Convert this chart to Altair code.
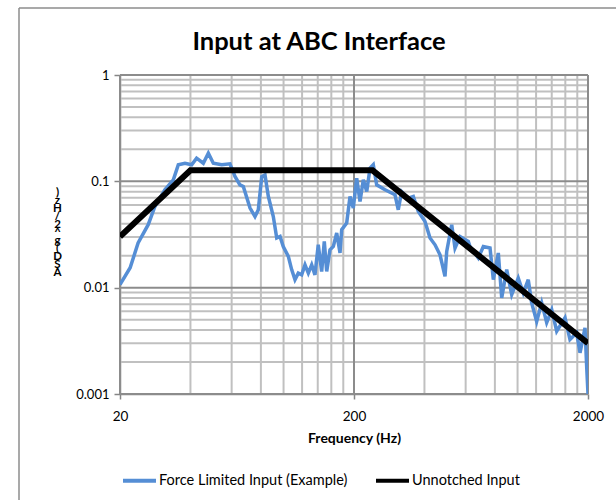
import altair as alt
import pandas as pd

# ---- data ----
force_freq = [20, 22.1, 23.9, 26.4, 28.2, 31.1, 33.8, 35.5, 37.9, 40.5,
              42.5, 45.4, 47.7, 50.1, 54.4, 59.0, 62.0, 65.1, 67.3, 71.9,
              75.5, 78.0, 80.7, 83.3, 86.1, 90.4, 93.5, 96.6, 99.7, 104.8,
              108.3, 111.9, 115.6, 119.5, 123.5, 127.6, 131.9, 136.2, 140.7, 145.5,
              149.3, 152.9, 157.9, 163.2, 168.7, 174.3, 177.2, 186.1, 192.3, 198.6,
              205.4, 212.2, 219.2, 226.7, 234.2, 241.8, 250.0, 271.4, 299.4, 309.2,
              319.7, 341.3, 358.5, 376.6, 402.2, 422.6, 443.9, 466.2, 489.7, 498.0,
              523.1, 540.4, 567.5, 615.9, 626.2, 679.6, 714.0, 762.7, 787.8, 827.5,
              855.6, 898.7, 944.0, 1007, 1058, 1111, 1149, 1207, 1268, 1332,
              1400, 1470, 1595, 1675, 1789, 1849, 1942, 1974, 2000]
force_asd = [0.0107, 0.0154, 0.0263, 0.0391, 0.058, 0.0832, 0.1033, 0.143, 0.148, 0.143,
             0.165, 0.148, 0.184, 0.148, 0.143, 0.146, 0.111, 0.0927, 0.0894, 0.056,
             0.0467, 0.054, 0.111, 0.115, 0.072, 0.0467, 0.0293, 0.0303, 0.0244, 0.0197,
             0.0148, 0.0119, 0.0137, 0.0132, 0.0164, 0.0137, 0.0164, 0.0132, 0.0253, 0.0142,
             0.0272, 0.0142, 0.0227, 0.0244, 0.0327, 0.0212, 0.0351, 0.0405, 0.072, 0.056,
             0.107, 0.0646, 0.1033, 0.0802, 0.133, 0.143, 0.0927, 0.0832, 0.0747, 0.054,
             0.0802, 0.0695, 0.072, 0.052, 0.042, 0.0293, 0.0253, 0.0204, 0.0128, 0.0219,
             0.0391, 0.0236, 0.0303, 0.0272, 0.0244, 0.019, 0.0244, 0.0236, 0.0119, 0.0212,
             0.0080, 0.0148, 0.0086, 0.0123, 0.0089, 0.0119, 0.0072, 0.0048, 0.0072, 0.0047,
             0.0062, 0.0039, 0.0052, 0.00325, 0.00376, 0.00244, 0.0042, 0.00182, 0.001]

unnotched_freq = [20, 40, 240, 2000]
unnotched_asd = [0.0302, 0.127, 0.127, 0.0030]

series_names = ["Force Limited Input (Example)", "Unnotched Input"]
series_colors = ["#558ED5", "#000000"]

chart_title = "Input at ABC Interface"

x_major = [20, 200, 2000]
x_minor = [40, 60, 80, 100, 120, 140, 160, 180,
           400, 600, 800, 1000, 1200, 1400, 1600, 1800]
y_major = [0.001, 0.01, 0.1, 1]
y_minor = [0.002, 0.003, 0.004, 0.005, 0.006, 0.007, 0.008, 0.009,
           0.02, 0.03, 0.04, 0.05, 0.06, 0.07, 0.08, 0.09,
           0.2, 0.3, 0.4, 0.5, 0.6, 0.7, 0.8, 0.9]

y_title_lines = [")", "z", "H", "/", "2", "^", "g", "(", " ", "D", "S", "A"]

FONT = "Lato"

# ---- shared encodings ----
x_scale = alt.Scale(type="log", domain=[20, 2000], nice=False)
y_scale = alt.Scale(type="log", domain=[0.001, 1], nice=False)

x_enc = alt.X("freq:Q", scale=x_scale,
              axis=alt.Axis(values=x_major, format="d", title="Frequency (Hz)",
                            grid=False, domainColor="#868686", domainWidth=1.5,
                            tickColor="#868686", tickSize=5, tickWidth=1.5,
                            labelFontSize=13.5, labelColor="#000000", labelPadding=10,
                            labelFlush=False, labelOverlap=False,
                            labelFont=FONT, titleFont=FONT,
                            titleFontSize=14, titleFontWeight="bold", titleColor="#000000",
                            titleBaseline="alphabetic", titleY=48))
y_enc = alt.Y("asd:Q", scale=y_scale,
              axis=alt.Axis(values=y_major, format="~g", title=y_title_lines,
                            grid=False, domainColor="#868686", domainWidth=1.5,
                            tickColor="#868686", tickSize=6, tickWidth=1.5,
                            labelFontSize=13, labelColor="#000000", labelPadding=5,
                            labelFlush=False, labelOverlap=False,
                            labelFont=FONT, titleFont=FONT,
                            titleAngle=0, titleAlign="center", titleBaseline="top",
                            titleX=-63, titleY=111, titleFontSize=11.5,
                            titleLineHeight=8, titleFontWeight="bold",
                            titleColor="#000000"))

color_enc = alt.Color("series:N",
                      scale=alt.Scale(domain=series_names, range=series_colors),
                      legend=alt.Legend(orient="none", legendX=1, legendY=387,
                                        direction="horizontal", title=None,
                                        symbolType="stroke", symbolSize=1089,
                                        symbolStrokeWidth=4, labelFontSize=14.5,
                                        labelFont=FONT, labelColor="#000000",
                                        labelOffset=1, columnPadding=20,
                                        labelLimit=400))

# ---- grid ----
gx_minor = alt.Chart(pd.DataFrame({"freq": x_minor})).mark_rule(
    color="#c0c0c0", strokeWidth=2).encode(x=x_enc)
gy_minor = alt.Chart(pd.DataFrame({"asd": y_minor})).mark_rule(
    color="#c0c0c0", strokeWidth=2).encode(y=y_enc)
gx_major = alt.Chart(pd.DataFrame({"freq": x_major})).mark_rule(
    color="#8c8c8c", strokeWidth=2).encode(x=x_enc)
gy_major = alt.Chart(pd.DataFrame({"asd": y_major})).mark_rule(
    color="#8c8c8c", strokeWidth=2).encode(y=y_enc)

# ---- series ----
force_df = pd.DataFrame({"freq": force_freq, "asd": force_asd,
                         "series": series_names[0]})
unn_df = pd.DataFrame({"freq": unnotched_freq, "asd": unnotched_asd,
                       "series": series_names[1]})

force_line = alt.Chart(force_df).mark_line(strokeWidth=3.5, clip=True).encode(
    x=x_enc, y=y_enc, color=color_enc)
unn_line = alt.Chart(unn_df).mark_line(strokeWidth=6, clip=True).encode(
    x=x_enc, y=y_enc, color=color_enc)

# ---- outer chart frame and title ----
frame_df = pd.DataFrame({"k": [0]})
frame_left = alt.Chart(frame_df).mark_rule(color="#8c8c8c", strokeWidth=1.5).encode(
    x=alt.value(-101), y=alt.value(-67), y2=alt.value(430))
frame_top = alt.Chart(frame_df).mark_rule(color="#8c8c8c", strokeWidth=1.5).encode(
    x=alt.value(-101), x2=alt.value(500), y=alt.value(-67))
title_mark = alt.Chart(frame_df).mark_text(
    text=chart_title, font=FONT, fontSize=25.5, fontWeight="bold", color="#000000",
    align="center", baseline="alphabetic").encode(
    x=alt.value(199), y=alt.value(-25))

chart = alt.layer(
    gx_minor, gy_minor, gx_major, gy_major, force_line, unn_line,
    frame_left, frame_top, title_mark
).properties(
    width=468, height=319,
    autosize=alt.AutoSizeParams(type="none"),
    padding={"left": 120, "top": 75, "right": 28, "bottom": 106},
    background="white",
).configure(font=FONT).configure_view(stroke=None)

chart.save("out.html", embed_options={"renderer": "svg", "actions": False})
